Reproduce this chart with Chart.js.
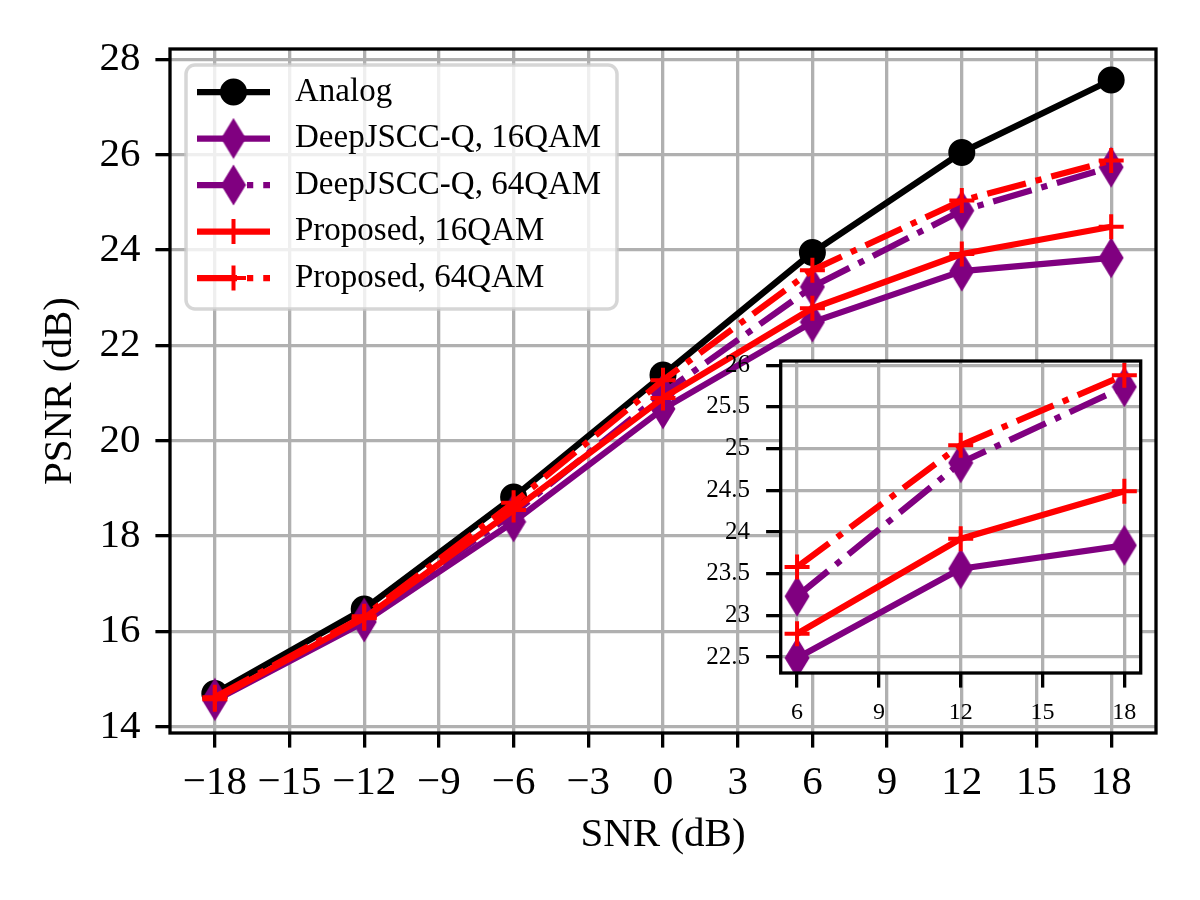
<!DOCTYPE html>
<html>
<head>
<meta charset="utf-8">
<script src="https://cdn.jsdelivr.net/npm/chart.js@4.4.1/dist/chart.umd.min.js"></script>
<style>
  html, body { margin: 0; padding: 0; background: #fff; }
  #wrap { position: relative; width: 1200px; height: 900px; }
  #main { position: absolute; left: 0; top: 0; width: 1200px; height: 900px; }
  #inset { position: absolute; left: 700px; top: 340px; width: 460px; height: 400px; }
</style>
</head>
<body>
<div id="wrap">
  <canvas id="main" width="1200" height="900"></canvas>
  <canvas id="inset" width="460" height="400"></canvas>
</div>
<script>
// values (PSNR in dB)
const snr = [-18, -12, -6, 0, 6, 12, 18];
const analog = [14.70, 16.47, 18.82, 21.38, 23.95, 26.05, 27.57];
const deepjsccQ16 = [14.55, 16.20, 18.30, 20.67, 22.49, 23.56, 23.84];
const deepjsccQ64 = [14.60, 16.28, 18.48, 21.00, 23.23, 24.83, 25.74];
const proposed16 = [14.58, 16.28, 18.55, 20.90, 22.78, 23.92, 24.49];
const proposed64 = [14.62, 16.32, 18.70, 21.27, 23.58, 25.04, 25.88];

const seriesLabels = ['Analog', 'DeepJSCC-Q, 16QAM', 'DeepJSCC-Q, 64QAM', 'Proposed, 16QAM', 'Proposed, 64QAM'];

const xTicks = [-18, -15, -12, -9, -6, -3, 0, 3, 6, 9, 12, 15, 18];
const yTicks = [14, 16, 18, 20, 22, 24, 26, 28];
const insetXTicks = [6, 9, 12, 15, 18];
const insetYTicks = [22.5, 23, 23.5, 24, 24.5, 25, 25.5, 26];
const insetFrom = 6;            // zoomed region starts at this SNR
const insetSeries = [1, 2, 3, 4]; // analog is not shown in the inset

const SERIF = "'Liberation Serif', 'Times New Roman', serif";
const GRID = '#b0b0b0';
const AXW = 3.3;
const LW = 6.25;
const DASHDOT = [40, 10, 6.25, 10];
const PURPLE = '#800080';
const RED = '#ff0000';

// thin diamond marker like matplotlib 'd'
function thinDiamond(color) {
  const c = document.createElement('canvas');
  c.width = 26; c.height = 42;
  const g = c.getContext('2d');
  g.fillStyle = color;
  g.beginPath();
  g.moveTo(13, 0.5); g.lineTo(25.5, 21); g.lineTo(13, 41.5); g.lineTo(0.5, 21);
  g.closePath();
  g.fill();
  return c;
}
const diamond = thinDiamond(PURPLE);

const styles = [
  { color: '#000000', dash: [], point: 'circle', radius: 12, pbw: 3 },
  { color: PURPLE, dash: [], point: diamond, radius: 12, pbw: 0 },
  { color: PURPLE, dash: DASHDOT, point: diamond, radius: 12, pbw: 0 },
  { color: RED, dash: [], point: 'cross', radius: 12.5, pbw: 4 },
  { color: RED, dash: DASHDOT, point: 'cross', radius: 12.5, pbw: 4 }
];
const allValues = [analog, deepjsccQ16, deepjsccQ64, proposed16, proposed64];

function makeDatasets(minX, which) {
  return which.map((i) => {
    const s = styles[i];
    const vals = allValues[i];
    const pts = [];
    snr.forEach((x, k) => { if (x >= minX) pts.push({ x: x, y: vals[k] }); });
    return {
      label: seriesLabels[i],
      data: pts,
      borderColor: s.color,
      backgroundColor: s.color,
      borderWidth: LW,
      borderDash: s.dash,
      borderJoinStyle: 'round',
      pointStyle: s.point,
      pointRadius: s.radius,
      pointHoverRadius: s.radius,
      pointBorderWidth: s.pbw,
      pointBorderColor: s.color,
      pointBackgroundColor: s.color,
      tension: 0,
      order: allValues.length - i
    };
  });
}

function minusFmt(v) { return v < 0 ? '\u2212' + Math.abs(v) : String(v); }

const framePlugin = {
  id: 'frame',
  beforeDraw(chart, args, opts) {
    if (opts.fill) {
      const a = chart.chartArea, ctx = chart.ctx;
      ctx.save();
      ctx.fillStyle = '#ffffff';
      ctx.fillRect(a.left, a.top, a.right - a.left, a.bottom - a.top);
      ctx.restore();
    }
  },
  afterDatasetsDraw(chart) {
    const a = chart.chartArea, ctx = chart.ctx;
    ctx.save();
    ctx.strokeStyle = '#000';
    ctx.lineWidth = AXW;
    ctx.strokeRect(a.left, a.top, a.right - a.left, a.bottom - a.top);
    ctx.restore();
  }
};

const legendPlugin = {
  id: 'mplLegend',
  afterDraw(chart) {
    const a = chart.chartArea, ctx = chart.ctx;
    const bx = a.left + 16, by = a.top + 16, bw = 431, bh = 244;
    ctx.save();
    ctx.beginPath();
    ctx.roundRect(bx, by, bw, bh, 9);
    ctx.fillStyle = 'rgba(255,255,255,0.8)';
    ctx.fill();
    ctx.strokeStyle = 'rgba(204,204,204,0.8)';
    ctx.lineWidth = 3.5;
    ctx.stroke();
    chart.data.datasets.forEach((ds, i) => {
      const y = a.top + 43 + i * 46.5;
      const x0 = a.left + 27, x1 = a.left + 100, xm = (x0 + x1) / 2;
      ctx.save();
      ctx.strokeStyle = ds.borderColor;
      ctx.lineWidth = ds.borderWidth;
      ctx.setLineDash(ds.borderDash);
      ctx.beginPath();
      ctx.moveTo(x0, y); ctx.lineTo(x1, y);
      ctx.stroke();
      ctx.setLineDash([]);
      ctx.fillStyle = ds.pointBackgroundColor;
      ctx.strokeStyle = ds.pointBorderColor;
      ctx.lineWidth = ds.pointBorderWidth;
      Chart.helpers.drawPoint(ctx, {
        pointStyle: ds.pointStyle, radius: ds.pointRadius,
        borderWidth: ds.pointBorderWidth, rotation: 0
      }, xm, y);
      ctx.restore();
      ctx.fillStyle = '#000';
      ctx.font = '33px ' + SERIF;
      ctx.textBaseline = 'middle';
      ctx.textAlign = 'left';
      ctx.fillText(ds.label, a.left + 125, y);
    });
    ctx.restore();
  }
};

function noScalePadding(s) {
  s.paddingTop = 0; s.paddingBottom = 0; s.paddingLeft = 0; s.paddingRight = 0;
}

function axisCommon(ticksList, fontSize, fmt, pad) {
  return {
    type: 'linear',
    afterBuildTicks: (scale) => { scale.ticks = ticksList.map(v => ({ value: v })); },
    grid: {
      color: GRID, lineWidth: AXW, drawTicks: true,
      tickColor: '#000', tickWidth: AXW, tickLength: 14.6
    },
    border: { display: false },
    ticks: {
      color: '#000', padding: pad, autoSkip: false, maxRotation: 0,
      font: { family: SERIF, size: fontSize },
      callback: fmt
    }
  };
}

const mainX = axisCommon(xTicks, 41, minusFmt, 11);
mainX.min = -19.8; mainX.max = 19.8;
mainX.afterFit = (s) => { s.height = 167; noScalePadding(s); };
mainX.title = { display: true, text: 'SNR (dB)', color: '#000',
  font: { family: SERIF, size: 41 }, padding: { top: 0, bottom: 40 } };

const mainY = axisCommon(yTicks, 41, minusFmt, 15);
mainY.min = 13.87; mainY.max = 28.22;
mainY.afterFit = (s) => { s.width = 170; noScalePadding(s); };
mainY.title = { display: true, text: 'PSNR (dB)', color: '#000',
  font: { family: SERIF, size: 41 }, padding: { top: 36, bottom: 0 } };

new Chart(document.getElementById('main'), {
  type: 'line',
  data: { datasets: makeDatasets(-Infinity, [0, 1, 2, 3, 4]) },
  options: {
    responsive: false,
    animation: false,
    devicePixelRatio: 1,
    events: [],
    layout: { padding: { left: 0, top: 49, right: 44, bottom: 0 } },
    plugins: { legend: { display: false }, tooltip: { enabled: false }, frame: {} },
    scales: { x: mainX, y: mainY }
  },
  plugins: [framePlugin, legendPlugin]
});

const insetX = axisCommon(insetXTicks, 24, String, 11);
insetX.min = 5.4; insetX.max = 18.6;
insetX.afterFit = (s) => { s.height = 67; noScalePadding(s); };

const insetY = axisCommon(insetYTicks, 25, String, 16);
insetY.min = 22.31; insetY.max = 26.05;
insetY.afterFit = (s) => { s.width = 80.7; noScalePadding(s); };

new Chart(document.getElementById('inset'), {
  type: 'line',
  data: { datasets: makeDatasets(insetFrom, insetSeries) },
  options: {
    responsive: false,
    animation: false,
    devicePixelRatio: 1,
    events: [],
    layout: { padding: { left: 0, top: 21, right: 19.3, bottom: 0 } },
    plugins: { legend: { display: false }, tooltip: { enabled: false }, frame: { fill: true } },
    scales: { x: insetX, y: insetY }
  },
  plugins: [framePlugin]
});
</script>
</body>
</html>
